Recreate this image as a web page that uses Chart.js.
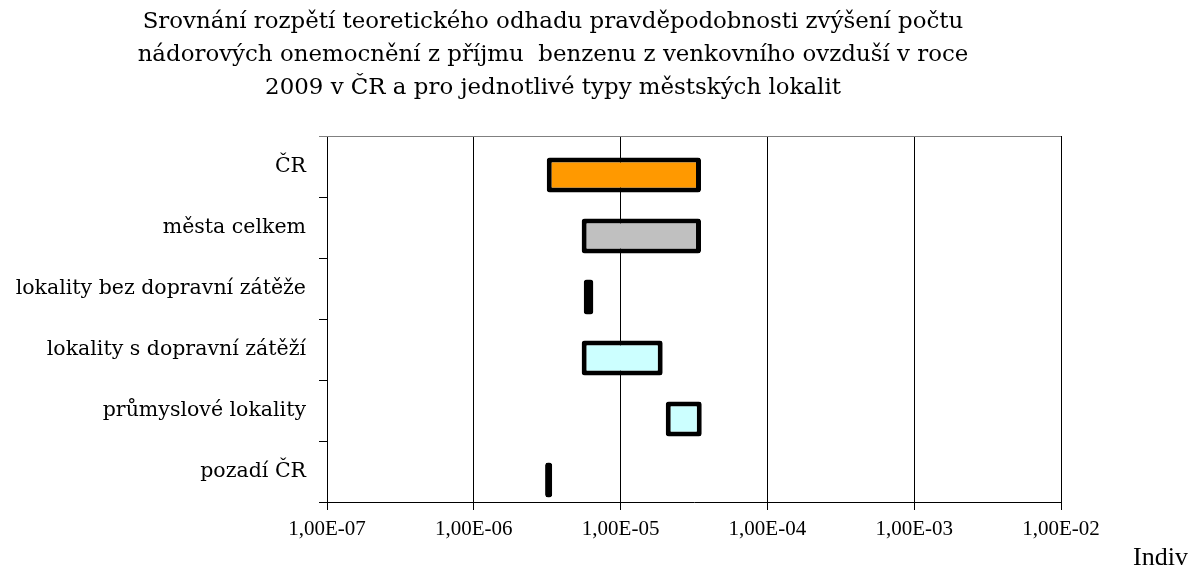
<!DOCTYPE html>
<html>
<head>
<meta charset="utf-8">
<script src="https://cdn.jsdelivr.net/npm/chart.js@4/dist/chart.umd.min.js"></script>
<style>
  html, body { margin: 0; padding: 0; background: #fff; }
  #wrap { width: 1189px; height: 571px; }
</style>
</head>
<body>
<div id="wrap"><canvas id="c" width="1189" height="571"></canvas></div>
<script>
const titleLines = [
  'Srovnání rozpětí teoretického odhadu pravděpodobnosti zvýšení počtu',
  'nádorových onemocnění z příjmu  benzenu z venkovního ovzduší v roce',
  '2009 v ČR a pro jednotlivé typy městských lokalit'
];
const categories = ['ČR', 'města celkem', 'lokality bez dopravní zátěže', 'lokality s dopravní zátěží', 'průmyslové lokality', 'pozadí ČR'];
const lowValues  = [3.14e-6, 5.43e-6, 5.61e-6, 5.43e-6, 2.03e-5, 3.06e-6];
const highValues = [3.53e-5, 3.53e-5, 6.52e-6, 1.935e-5, 3.57e-5, 3.42e-6];
const tickValues = [1e-7, 1e-6, 1e-5, 1e-4, 1e-3, 1e-2];
const tickLabels = ['1,00E-07', '1,00E-06', '1,00E-05', '1,00E-04', '1,00E-03', '1,00E-02'];
const axisTitleText = 'Indiv';
const barColors = ['#FF9900', '#C0C0C0', '#CCFFFF', '#CCFFFF', '#CCFFFF', '#CCFFFF'];

const ranges = categories.map((_, i) => [lowValues[i], highValues[i]]);
const spacer = categories.map(() => null);

const extras = {
  id: 'extras',
  afterDraw(chart) {
    const { ctx, chartArea } = chart;
    ctx.save();
    ctx.strokeStyle = '#808080';
    ctx.lineWidth = 1;
    ctx.beginPath();
    ctx.moveTo(chartArea.left - 8, Math.round(chartArea.top) + 0.5);
    ctx.lineTo(chartArea.right, Math.round(chartArea.top) + 0.5);
    ctx.stroke();
    ctx.fillStyle = '#000';
    ctx.font = '26px "Liberation Serif"';
    ctx.textBaseline = 'alphabetic';
    ctx.textAlign = 'left';
    ctx.fillText(axisTitleText, 1133, 565);
    ctx.restore();
  }
};

new Chart(document.getElementById('c'), {
  type: 'bar',
  data: {
    labels: categories,
    datasets: [
      { data: spacer, backgroundColor: 'rgba(0,0,0,0)', borderWidth: 0 },
      {
        data: ranges,
        backgroundColor: barColors,
        borderColor: '#000',
        borderWidth: 5,
        borderRadius: 3,
        borderSkipped: false
      }
    ]
  },
  options: {
    indexAxis: 'y',
    responsive: false,
    animation: false,
    layout: { padding: { left: 0, right: 83, top: 0, bottom: 0 } },
    datasets: { bar: { categoryPercentage: 0.557, barPercentage: 2.06 } },
    plugins: {
      legend: { display: false },
      tooltip: { enabled: false },
      title: {
        display: true,
        text: titleLines,
        color: '#000',
        font: { family: '"DejaVu Serif"', size: 22.9, weight: 'normal', lineHeight: '33px' },
        padding: { top: 6, bottom: 31 }
      }
    },
    scales: {
      x: {
        type: 'logarithmic',
        min: 1e-7,
        max: 1e-2,
        afterBuildTicks: (axis) => { axis.ticks = tickValues.map(v => ({ value: v })); },
        afterFit: (axis) => { axis.height = 69; },
        ticks: {
          color: '#000',
          font: { family: '"Liberation Serif"', size: 21 },
          padding: 7,
          maxRotation: 0,
          autoSkip: false,
          callback: (v) => { const i = tickValues.findIndex(t => Math.abs(t - v) / t < 1e-6); return i >= 0 ? tickLabels[i] : ''; }
        },
        grid: { color: '#000', lineWidth: 1, tickLength: 8, drawOnChartArea: true },
        border: { color: '#000', width: 1 }
      },
      y: {
        afterFit: (axis) => { axis.width = 327; },
        ticks: {
          color: '#000',
          font: { family: '"DejaVu Serif"', size: 20.5 },
          padding: 13
        },
        grid: { offset: true, drawOnChartArea: false, color: '#000', tickLength: 8 },
        border: { color: '#000', width: 1 }
      },
      yRight: {
        type: 'category',
        position: 'right',
        afterFit: (axis) => { axis.width = 45; },
        ticks: { display: false },
        grid: { display: false },
        border: { display: false }
      }
    }
  },
  plugins: [extras]
});
</script>
</body>
</html>
